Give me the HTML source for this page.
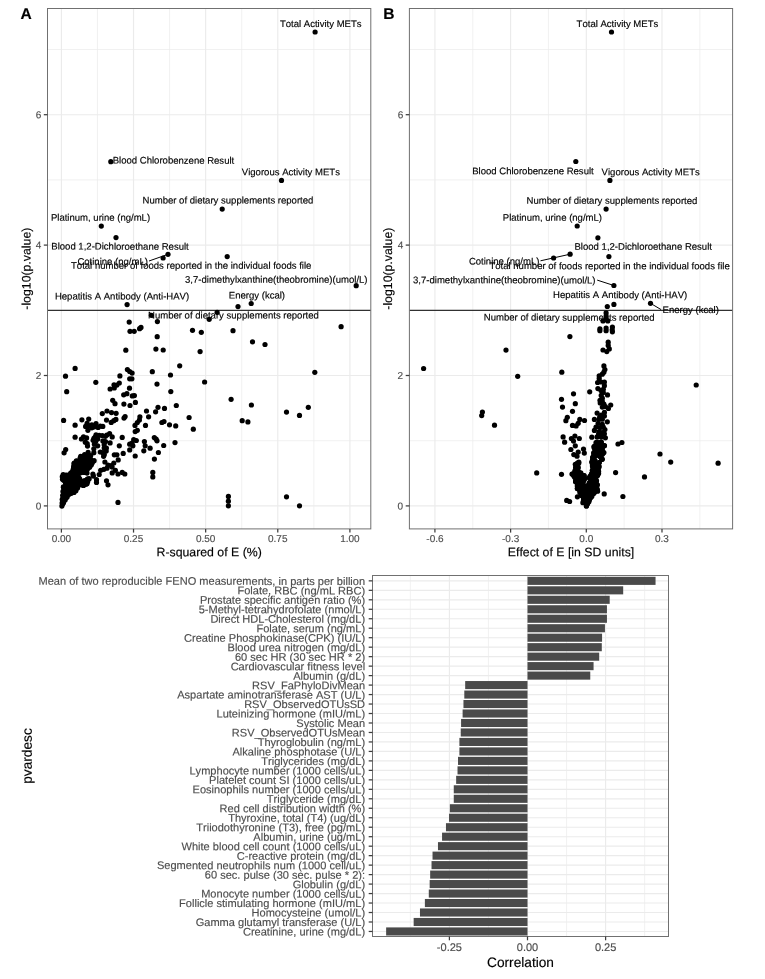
<!DOCTYPE html>
<html lang="en"><head><meta charset="utf-8"><title>Figure</title>
<style>
html,body{margin:0;padding:0;background:#fff;}
body{width:765px;height:979px;overflow:hidden;}
svg{display:block;font-family:"Liberation Sans",Arial,Helvetica,sans-serif;font-kerning:none;text-rendering:geometricPrecision;}
</style></head><body>
<svg width="765" height="979" viewBox="0 0 765 979">
<rect width="765" height="979" fill="#fff"/>
<rect x="47.5" y="8.5" width="323.3" height="520.4" fill="#fff"/>
<line x1="97.46" x2="97.46" y1="8.5" y2="528.9" stroke="#ebebeb" stroke-width="0.7"/>
<line x1="169.59" x2="169.59" y1="8.5" y2="528.9" stroke="#ebebeb" stroke-width="0.7"/>
<line x1="241.71" x2="241.71" y1="8.5" y2="528.9" stroke="#ebebeb" stroke-width="0.7"/>
<line x1="313.84" x2="313.84" y1="8.5" y2="528.9" stroke="#ebebeb" stroke-width="0.7"/>
<line y1="440.70" y2="440.70" x1="47.5" x2="370.8" stroke="#ebebeb" stroke-width="0.7"/>
<line y1="310.30" y2="310.30" x1="47.5" x2="370.8" stroke="#ebebeb" stroke-width="0.7"/>
<line y1="179.90" y2="179.90" x1="47.5" x2="370.8" stroke="#ebebeb" stroke-width="0.7"/>
<line y1="49.50" y2="49.50" x1="47.5" x2="370.8" stroke="#ebebeb" stroke-width="0.7"/>
<line x1="61.40" x2="61.40" y1="8.5" y2="528.9" stroke="#ebebeb" stroke-width="1.15"/>
<line x1="133.53" x2="133.53" y1="8.5" y2="528.9" stroke="#ebebeb" stroke-width="1.15"/>
<line x1="205.65" x2="205.65" y1="8.5" y2="528.9" stroke="#ebebeb" stroke-width="1.15"/>
<line x1="277.77" x2="277.77" y1="8.5" y2="528.9" stroke="#ebebeb" stroke-width="1.15"/>
<line x1="349.90" x2="349.90" y1="8.5" y2="528.9" stroke="#ebebeb" stroke-width="1.15"/>
<line y1="505.90" y2="505.90" x1="47.5" x2="370.8" stroke="#ebebeb" stroke-width="1.15"/>
<line y1="375.50" y2="375.50" x1="47.5" x2="370.8" stroke="#ebebeb" stroke-width="1.15"/>
<line y1="245.10" y2="245.10" x1="47.5" x2="370.8" stroke="#ebebeb" stroke-width="1.15"/>
<line y1="114.70" y2="114.70" x1="47.5" x2="370.8" stroke="#ebebeb" stroke-width="1.15"/>
<rect x="409.4" y="8.5" width="323.20000000000005" height="520.4" fill="#fff"/>
<line x1="472.76" x2="472.76" y1="8.5" y2="528.9" stroke="#ebebeb" stroke-width="0.7"/>
<line x1="548.45" x2="548.45" y1="8.5" y2="528.9" stroke="#ebebeb" stroke-width="0.7"/>
<line x1="624.14" x2="624.14" y1="8.5" y2="528.9" stroke="#ebebeb" stroke-width="0.7"/>
<line x1="699.83" x2="699.83" y1="8.5" y2="528.9" stroke="#ebebeb" stroke-width="0.7"/>
<line y1="440.70" y2="440.70" x1="409.4" x2="732.6" stroke="#ebebeb" stroke-width="0.7"/>
<line y1="310.30" y2="310.30" x1="409.4" x2="732.6" stroke="#ebebeb" stroke-width="0.7"/>
<line y1="179.90" y2="179.90" x1="409.4" x2="732.6" stroke="#ebebeb" stroke-width="0.7"/>
<line y1="49.50" y2="49.50" x1="409.4" x2="732.6" stroke="#ebebeb" stroke-width="0.7"/>
<line x1="434.92" x2="434.92" y1="8.5" y2="528.9" stroke="#ebebeb" stroke-width="1.15"/>
<line x1="510.61" x2="510.61" y1="8.5" y2="528.9" stroke="#ebebeb" stroke-width="1.15"/>
<line x1="586.30" x2="586.30" y1="8.5" y2="528.9" stroke="#ebebeb" stroke-width="1.15"/>
<line x1="661.99" x2="661.99" y1="8.5" y2="528.9" stroke="#ebebeb" stroke-width="1.15"/>
<line y1="505.90" y2="505.90" x1="409.4" x2="732.6" stroke="#ebebeb" stroke-width="1.15"/>
<line y1="375.50" y2="375.50" x1="409.4" x2="732.6" stroke="#ebebeb" stroke-width="1.15"/>
<line y1="245.10" y2="245.10" x1="409.4" x2="732.6" stroke="#ebebeb" stroke-width="1.15"/>
<line y1="114.70" y2="114.70" x1="409.4" x2="732.6" stroke="#ebebeb" stroke-width="1.15"/>
<g fill="#000">
<circle cx="315.1" cy="32.0" r="2.6"/>
<circle cx="110.8" cy="161.7" r="2.6"/>
<circle cx="281.5" cy="180.4" r="2.6"/>
<circle cx="222.2" cy="209.1" r="2.6"/>
<circle cx="101.3" cy="226.1" r="2.6"/>
<circle cx="116.0" cy="237.6" r="2.6"/>
<circle cx="163.1" cy="258.0" r="2.6"/>
<circle cx="168.0" cy="254.3" r="2.6"/>
<circle cx="227.2" cy="256.6" r="2.6"/>
<circle cx="75.1" cy="368.4" r="2.6"/>
<circle cx="65.5" cy="376.2" r="2.6"/>
<circle cx="66.7" cy="391.7" r="2.6"/>
<circle cx="95.8" cy="382.3" r="2.6"/>
<circle cx="127.4" cy="369.6" r="2.6"/>
<circle cx="129.7" cy="371.5" r="2.6"/>
<circle cx="119.9" cy="375.9" r="2.6"/>
<circle cx="119.3" cy="383.0" r="2.6"/>
<circle cx="116.9" cy="385.1" r="2.6"/>
<circle cx="114.0" cy="384.9" r="2.6"/>
<circle cx="110.1" cy="389.0" r="2.6"/>
<circle cx="114.3" cy="388.0" r="2.6"/>
<circle cx="126.9" cy="393.7" r="2.6"/>
<circle cx="123.7" cy="394.8" r="2.6"/>
<circle cx="129.5" cy="388.2" r="2.6"/>
<circle cx="129.7" cy="378.8" r="2.6"/>
<circle cx="112.7" cy="400.3" r="2.6"/>
<circle cx="115.0" cy="403.7" r="2.6"/>
<circle cx="123.9" cy="404.1" r="2.6"/>
<circle cx="130.0" cy="405.5" r="2.6"/>
<circle cx="107.0" cy="411.0" r="2.6"/>
<circle cx="102.3" cy="413.6" r="2.6"/>
<circle cx="111.5" cy="412.6" r="2.6"/>
<circle cx="116.1" cy="413.3" r="2.6"/>
<circle cx="125.1" cy="416.5" r="2.6"/>
<circle cx="124.0" cy="418.1" r="2.6"/>
<circle cx="115.9" cy="419.4" r="2.6"/>
<circle cx="113.8" cy="420.7" r="2.6"/>
<circle cx="111.2" cy="422.4" r="2.6"/>
<circle cx="106.5" cy="420.1" r="2.6"/>
<circle cx="63.6" cy="420.4" r="2.6"/>
<circle cx="81.9" cy="419.8" r="2.6"/>
<circle cx="88.7" cy="419.1" r="2.6"/>
<circle cx="75.1" cy="425.2" r="2.6"/>
<circle cx="87.1" cy="423.3" r="2.6"/>
<circle cx="85.6" cy="426.4" r="2.6"/>
<circle cx="89.7" cy="425.9" r="2.6"/>
<circle cx="87.9" cy="430.3" r="2.6"/>
<circle cx="96.0" cy="423.6" r="2.6"/>
<circle cx="93.9" cy="426.9" r="2.6"/>
<circle cx="98.1" cy="427.5" r="2.6"/>
<circle cx="102.8" cy="426.4" r="2.6"/>
<circle cx="91.8" cy="424.8" r="2.6"/>
<circle cx="75.1" cy="437.2" r="2.6"/>
<circle cx="83.5" cy="436.9" r="2.6"/>
<circle cx="86.6" cy="437.9" r="2.6"/>
<circle cx="96.0" cy="434.8" r="2.6"/>
<circle cx="99.2" cy="435.3" r="2.6"/>
<circle cx="102.3" cy="435.5" r="2.6"/>
<circle cx="105.4" cy="436.3" r="2.6"/>
<circle cx="109.6" cy="433.7" r="2.6"/>
<circle cx="112.2" cy="436.9" r="2.6"/>
<circle cx="122.2" cy="437.4" r="2.6"/>
<circle cx="93.9" cy="438.4" r="2.6"/>
<circle cx="81.4" cy="439.0" r="2.6"/>
<circle cx="118.0" cy="502.4" r="2.6"/>
<circle cx="65.7" cy="449.6" r="2.6"/>
<circle cx="64.1" cy="452.8" r="2.6"/>
<circle cx="119.3" cy="445.8" r="2.6"/>
<circle cx="123.2" cy="453.4" r="2.6"/>
<circle cx="129.7" cy="444.2" r="2.6"/>
<circle cx="129.7" cy="449.9" r="2.6"/>
<circle cx="114.3" cy="454.8" r="2.6"/>
<circle cx="116.9" cy="454.8" r="2.6"/>
<circle cx="118.2" cy="459.9" r="2.6"/>
<circle cx="113.8" cy="463.0" r="2.6"/>
<circle cx="111.2" cy="465.6" r="2.6"/>
<circle cx="108.0" cy="465.1" r="2.6"/>
<circle cx="104.9" cy="462.0" r="2.6"/>
<circle cx="107.0" cy="468.2" r="2.6"/>
<circle cx="103.9" cy="469.3" r="2.6"/>
<circle cx="100.7" cy="470.3" r="2.6"/>
<circle cx="99.2" cy="474.5" r="2.6"/>
<circle cx="112.2" cy="472.9" r="2.6"/>
<circle cx="115.4" cy="470.3" r="2.6"/>
<circle cx="118.0" cy="474.0" r="2.6"/>
<circle cx="122.2" cy="472.4" r="2.6"/>
<circle cx="124.8" cy="474.0" r="2.6"/>
<circle cx="106.5" cy="480.8" r="2.6"/>
<circle cx="108.0" cy="484.8" r="2.6"/>
<circle cx="96.5" cy="479.7" r="2.6"/>
<circle cx="96.5" cy="482.4" r="2.6"/>
<circle cx="92.9" cy="474.0" r="2.6"/>
<circle cx="93.4" cy="476.1" r="2.6"/>
<circle cx="89.2" cy="478.7" r="2.6"/>
<circle cx="87.1" cy="483.4" r="2.6"/>
<circle cx="83.5" cy="485.5" r="2.6"/>
<circle cx="84.5" cy="480.8" r="2.6"/>
<circle cx="132.1" cy="443.1" r="2.6"/>
<circle cx="136.3" cy="440.5" r="2.6"/>
<circle cx="132.9" cy="445.8" r="2.6"/>
<circle cx="135.2" cy="456.0" r="2.6"/>
<circle cx="144.4" cy="441.6" r="2.6"/>
<circle cx="145.2" cy="445.8" r="2.6"/>
<circle cx="143.8" cy="450.8" r="2.6"/>
<circle cx="150.1" cy="448.2" r="2.6"/>
<circle cx="157.0" cy="440.8" r="2.6"/>
<circle cx="163.7" cy="445.5" r="2.6"/>
<circle cx="158.4" cy="452.5" r="2.6"/>
<circle cx="154.4" cy="459.1" r="2.6"/>
<circle cx="175.0" cy="442.6" r="2.6"/>
<circle cx="152.8" cy="472.4" r="2.6"/>
<circle cx="152.8" cy="476.9" r="2.6"/>
<circle cx="132.1" cy="373.1" r="2.6"/>
<circle cx="131.9" cy="378.8" r="2.6"/>
<circle cx="132.3" cy="395.9" r="2.6"/>
<circle cx="134.4" cy="395.6" r="2.6"/>
<circle cx="135.4" cy="402.4" r="2.6"/>
<circle cx="152.3" cy="371.7" r="2.6"/>
<circle cx="157.0" cy="384.1" r="2.6"/>
<circle cx="170.5" cy="375.0" r="2.6"/>
<circle cx="179.7" cy="365.8" r="2.6"/>
<circle cx="170.8" cy="391.6" r="2.6"/>
<circle cx="204.6" cy="382.0" r="2.6"/>
<circle cx="176.3" cy="405.5" r="2.6"/>
<circle cx="158.0" cy="407.3" r="2.6"/>
<circle cx="164.5" cy="408.4" r="2.6"/>
<circle cx="146.5" cy="411.0" r="2.6"/>
<circle cx="155.6" cy="411.8" r="2.6"/>
<circle cx="139.9" cy="416.8" r="2.6"/>
<circle cx="148.6" cy="416.8" r="2.6"/>
<circle cx="139.4" cy="420.1" r="2.6"/>
<circle cx="137.3" cy="422.5" r="2.6"/>
<circle cx="135.0" cy="425.4" r="2.6"/>
<circle cx="145.5" cy="425.4" r="2.6"/>
<circle cx="161.9" cy="422.5" r="2.6"/>
<circle cx="164.0" cy="421.5" r="2.6"/>
<circle cx="169.5" cy="424.8" r="2.6"/>
<circle cx="175.7" cy="425.9" r="2.6"/>
<circle cx="189.1" cy="417.5" r="2.6"/>
<circle cx="193.3" cy="429.2" r="2.6"/>
<circle cx="135.2" cy="431.6" r="2.6"/>
<circle cx="137.3" cy="430.3" r="2.6"/>
<circle cx="154.3" cy="437.6" r="2.6"/>
<circle cx="156.1" cy="439.0" r="2.6"/>
<circle cx="133.7" cy="439.7" r="2.6"/>
<circle cx="314.8" cy="372.3" r="2.6"/>
<circle cx="231.1" cy="399.3" r="2.6"/>
<circle cx="251.4" cy="405.0" r="2.6"/>
<circle cx="242.2" cy="420.7" r="2.6"/>
<circle cx="247.9" cy="421.9" r="2.6"/>
<circle cx="286.5" cy="412.1" r="2.6"/>
<circle cx="299.5" cy="415.4" r="2.6"/>
<circle cx="308.3" cy="407.3" r="2.6"/>
<circle cx="228.4" cy="496.4" r="2.6"/>
<circle cx="228.4" cy="501.2" r="2.6"/>
<circle cx="228.4" cy="505.8" r="2.6"/>
<circle cx="286.5" cy="496.8" r="2.6"/>
<circle cx="299.5" cy="505.8" r="2.6"/>
<circle cx="127.1" cy="304.6" r="2.6"/>
<circle cx="129.2" cy="322.1" r="2.6"/>
<circle cx="130.0" cy="331.3" r="2.6"/>
<circle cx="125.8" cy="350.2" r="2.6"/>
<circle cx="151.4" cy="315.3" r="2.6"/>
<circle cx="157.4" cy="321.6" r="2.6"/>
<circle cx="134.2" cy="331.3" r="2.6"/>
<circle cx="139.6" cy="328.7" r="2.6"/>
<circle cx="141.0" cy="327.4" r="2.6"/>
<circle cx="157.2" cy="336.7" r="2.6"/>
<circle cx="192.5" cy="330.3" r="2.6"/>
<circle cx="201.3" cy="332.3" r="2.6"/>
<circle cx="155.9" cy="349.1" r="2.6"/>
<circle cx="163.2" cy="350.0" r="2.6"/>
<circle cx="200.1" cy="351.6" r="2.6"/>
<circle cx="356.2" cy="285.7" r="2.6"/>
<circle cx="251.2" cy="303.5" r="2.6"/>
<circle cx="238.0" cy="306.6" r="2.6"/>
<circle cx="217.1" cy="312.3" r="2.6"/>
<circle cx="209.2" cy="319.3" r="2.6"/>
<circle cx="233.0" cy="330.7" r="2.6"/>
<circle cx="252.5" cy="341.8" r="2.6"/>
<circle cx="265.0" cy="344.5" r="2.6"/>
<circle cx="341.1" cy="326.7" r="2.6"/>
<circle cx="91.8" cy="427.8" r="2.6"/>
<circle cx="100.3" cy="426.2" r="2.6"/>
<circle cx="85.3" cy="442.2" r="2.6"/>
<circle cx="87.5" cy="446.1" r="2.6"/>
<circle cx="87.2" cy="443.5" r="2.6"/>
<circle cx="95.1" cy="437.0" r="2.6"/>
<circle cx="93.1" cy="440.3" r="2.6"/>
<circle cx="95.7" cy="441.6" r="2.6"/>
<circle cx="97.7" cy="439.0" r="2.6"/>
<circle cx="94.4" cy="444.2" r="2.6"/>
<circle cx="97.7" cy="445.8" r="2.6"/>
<circle cx="93.8" cy="448.8" r="2.6"/>
<circle cx="93.8" cy="452.7" r="2.6"/>
<circle cx="106.8" cy="435.0" r="2.6"/>
<circle cx="102.9" cy="440.9" r="2.6"/>
<circle cx="105.5" cy="441.6" r="2.6"/>
<circle cx="110.1" cy="442.9" r="2.6"/>
<circle cx="104.2" cy="444.8" r="2.6"/>
<circle cx="104.2" cy="448.1" r="2.6"/>
<circle cx="100.3" cy="452.0" r="2.6"/>
<circle cx="102.9" cy="452.7" r="2.6"/>
<circle cx="106.2" cy="451.0" r="2.6"/>
<circle cx="103.6" cy="456.3" r="2.6"/>
<circle cx="112.1" cy="467.1" r="2.6"/>
<circle cx="94.1" cy="460.7" r="2.6"/>
<circle cx="104.3" cy="454.4" r="2.6"/>
<circle cx="106.4" cy="448.1" r="2.6"/>
<circle cx="92.3" cy="462.8" r="2.6"/>
<circle cx="88.1" cy="452.3" r="2.6"/>
<circle cx="90.7" cy="455.5" r="2.6"/>
<circle cx="85.7" cy="484.2" r="2.6"/>
<circle cx="61.9" cy="506.1" r="2.6"/>
<circle cx="62.1" cy="503.1" r="2.6"/>
<circle cx="62.3" cy="499.2" r="2.6"/>
<circle cx="62.7" cy="495.3" r="2.6"/>
<circle cx="63.0" cy="491.4" r="2.6"/>
<circle cx="63.4" cy="486.8" r="2.6"/>
<circle cx="65.5" cy="482.5" r="2.6"/>
<circle cx="62.5" cy="479.3" r="2.6"/>
<circle cx="62.3" cy="476.7" r="2.6"/>
<circle cx="63.2" cy="474.7" r="2.6"/>
<circle cx="65.5" cy="475.4" r="2.6"/>
<circle cx="70.7" cy="473.1" r="2.6"/>
<circle cx="73.0" cy="469.8" r="2.6"/>
<circle cx="73.6" cy="467.2" r="2.6"/>
<circle cx="74.0" cy="463.9" r="2.6"/>
<circle cx="74.2" cy="463.1" r="2.6"/>
<circle cx="76.4" cy="460.8" r="2.6"/>
<circle cx="80.7" cy="456.3" r="2.6"/>
<circle cx="84.6" cy="454.6" r="2.6"/>
<circle cx="87.9" cy="455.6" r="2.6"/>
<circle cx="90.5" cy="459.2" r="2.6"/>
<circle cx="92.5" cy="461.2" r="2.6"/>
<circle cx="91.1" cy="465.1" r="2.6"/>
<circle cx="89.6" cy="467.2" r="2.6"/>
<circle cx="87.7" cy="468.5" r="2.6"/>
<circle cx="86.7" cy="470.8" r="2.6"/>
<circle cx="87.0" cy="473.1" r="2.6"/>
<circle cx="87.7" cy="479.0" r="2.6"/>
<circle cx="87.7" cy="481.6" r="2.6"/>
<circle cx="86.4" cy="483.9" r="2.6"/>
<circle cx="83.1" cy="485.2" r="2.6"/>
<circle cx="81.1" cy="484.2" r="2.6"/>
<circle cx="77.5" cy="488.1" r="2.6"/>
<circle cx="75.9" cy="490.7" r="2.6"/>
<circle cx="74.0" cy="492.4" r="2.6"/>
<circle cx="71.3" cy="493.3" r="2.6"/>
<circle cx="69.1" cy="494.3" r="2.6"/>
<circle cx="67.1" cy="496.9" r="2.6"/>
<circle cx="65.1" cy="499.9" r="2.6"/>
<circle cx="63.5" cy="502.8" r="2.6"/>
<circle cx="81.4" cy="456.5" r="2.6"/>
<circle cx="83.5" cy="456.8" r="2.6"/>
<circle cx="86.1" cy="457.3" r="2.6"/>
<circle cx="88.6" cy="457.3" r="2.6"/>
<circle cx="80.1" cy="458.1" r="2.6"/>
<circle cx="82.2" cy="459.1" r="2.6"/>
<circle cx="85.5" cy="457.9" r="2.6"/>
<circle cx="87.3" cy="457.9" r="2.6"/>
<circle cx="89.8" cy="458.4" r="2.6"/>
<circle cx="76.5" cy="461.4" r="2.6"/>
<circle cx="79.7" cy="460.4" r="2.6"/>
<circle cx="81.3" cy="460.7" r="2.6"/>
<circle cx="83.9" cy="460.8" r="2.6"/>
<circle cx="86.1" cy="460.8" r="2.6"/>
<circle cx="89.0" cy="460.7" r="2.6"/>
<circle cx="90.5" cy="461.0" r="2.6"/>
<circle cx="75.9" cy="462.6" r="2.6"/>
<circle cx="78.2" cy="462.4" r="2.6"/>
<circle cx="80.6" cy="463.0" r="2.6"/>
<circle cx="81.8" cy="461.9" r="2.6"/>
<circle cx="85.1" cy="463.4" r="2.6"/>
<circle cx="86.8" cy="462.6" r="2.6"/>
<circle cx="89.6" cy="462.4" r="2.6"/>
<circle cx="91.5" cy="462.3" r="2.6"/>
<circle cx="75.0" cy="464.2" r="2.6"/>
<circle cx="76.3" cy="464.5" r="2.6"/>
<circle cx="79.4" cy="464.0" r="2.6"/>
<circle cx="81.1" cy="464.4" r="2.6"/>
<circle cx="84.2" cy="464.5" r="2.6"/>
<circle cx="86.6" cy="464.1" r="2.6"/>
<circle cx="88.1" cy="464.9" r="2.6"/>
<circle cx="91.2" cy="464.6" r="2.6"/>
<circle cx="73.9" cy="466.4" r="2.6"/>
<circle cx="75.1" cy="466.3" r="2.6"/>
<circle cx="78.4" cy="466.3" r="2.6"/>
<circle cx="80.0" cy="466.5" r="2.6"/>
<circle cx="82.4" cy="466.5" r="2.6"/>
<circle cx="85.5" cy="466.1" r="2.6"/>
<circle cx="86.4" cy="467.4" r="2.6"/>
<circle cx="74.7" cy="468.3" r="2.6"/>
<circle cx="77.3" cy="467.9" r="2.6"/>
<circle cx="79.8" cy="469.0" r="2.6"/>
<circle cx="82.1" cy="469.3" r="2.6"/>
<circle cx="84.4" cy="468.8" r="2.6"/>
<circle cx="85.2" cy="469.0" r="2.6"/>
<circle cx="87.8" cy="468.3" r="2.6"/>
<circle cx="73.4" cy="471.2" r="2.6"/>
<circle cx="75.1" cy="471.1" r="2.6"/>
<circle cx="78.6" cy="471.1" r="2.6"/>
<circle cx="80.8" cy="469.9" r="2.6"/>
<circle cx="82.8" cy="471.2" r="2.6"/>
<circle cx="84.1" cy="470.3" r="2.6"/>
<circle cx="71.9" cy="472.4" r="2.6"/>
<circle cx="74.3" cy="472.9" r="2.6"/>
<circle cx="77.0" cy="472.4" r="2.6"/>
<circle cx="78.6" cy="472.4" r="2.6"/>
<circle cx="80.8" cy="472.7" r="2.6"/>
<circle cx="84.1" cy="472.5" r="2.6"/>
<circle cx="85.3" cy="472.1" r="2.6"/>
<circle cx="66.5" cy="475.0" r="2.6"/>
<circle cx="68.6" cy="475.0" r="2.6"/>
<circle cx="71.0" cy="474.2" r="2.6"/>
<circle cx="73.4" cy="475.0" r="2.6"/>
<circle cx="75.0" cy="474.5" r="2.6"/>
<circle cx="77.8" cy="475.3" r="2.6"/>
<circle cx="63.4" cy="476.8" r="2.6"/>
<circle cx="64.7" cy="476.8" r="2.6"/>
<circle cx="66.8" cy="476.1" r="2.6"/>
<circle cx="70.4" cy="475.9" r="2.6"/>
<circle cx="71.6" cy="476.0" r="2.6"/>
<circle cx="75.1" cy="476.1" r="2.6"/>
<circle cx="76.1" cy="477.2" r="2.6"/>
<circle cx="78.5" cy="477.2" r="2.6"/>
<circle cx="63.5" cy="478.4" r="2.6"/>
<circle cx="66.6" cy="479.2" r="2.6"/>
<circle cx="68.4" cy="478.1" r="2.6"/>
<circle cx="70.7" cy="478.8" r="2.6"/>
<circle cx="73.8" cy="478.5" r="2.6"/>
<circle cx="75.5" cy="478.5" r="2.6"/>
<circle cx="77.7" cy="478.5" r="2.6"/>
<circle cx="79.6" cy="478.7" r="2.6"/>
<circle cx="87.5" cy="479.1" r="2.6"/>
<circle cx="63.6" cy="480.1" r="2.6"/>
<circle cx="64.7" cy="481.1" r="2.6"/>
<circle cx="68.3" cy="480.7" r="2.6"/>
<circle cx="69.8" cy="481.0" r="2.6"/>
<circle cx="71.7" cy="480.3" r="2.6"/>
<circle cx="74.0" cy="480.8" r="2.6"/>
<circle cx="76.5" cy="480.2" r="2.6"/>
<circle cx="79.4" cy="481.4" r="2.6"/>
<circle cx="81.1" cy="481.0" r="2.6"/>
<circle cx="83.6" cy="481.2" r="2.6"/>
<circle cx="86.1" cy="480.3" r="2.6"/>
<circle cx="65.9" cy="483.4" r="2.6"/>
<circle cx="68.7" cy="482.8" r="2.6"/>
<circle cx="71.0" cy="483.2" r="2.6"/>
<circle cx="73.9" cy="482.7" r="2.6"/>
<circle cx="75.6" cy="483.0" r="2.6"/>
<circle cx="78.5" cy="482.5" r="2.6"/>
<circle cx="80.6" cy="483.4" r="2.6"/>
<circle cx="82.5" cy="482.2" r="2.6"/>
<circle cx="84.4" cy="483.0" r="2.6"/>
<circle cx="65.9" cy="485.3" r="2.6"/>
<circle cx="67.2" cy="485.2" r="2.6"/>
<circle cx="69.6" cy="484.5" r="2.6"/>
<circle cx="72.6" cy="484.0" r="2.6"/>
<circle cx="73.9" cy="485.2" r="2.6"/>
<circle cx="76.5" cy="484.4" r="2.6"/>
<circle cx="79.2" cy="484.9" r="2.6"/>
<circle cx="80.6" cy="484.4" r="2.6"/>
<circle cx="83.6" cy="484.6" r="2.6"/>
<circle cx="63.5" cy="487.3" r="2.6"/>
<circle cx="67.1" cy="486.0" r="2.6"/>
<circle cx="69.5" cy="486.5" r="2.6"/>
<circle cx="71.5" cy="487.1" r="2.6"/>
<circle cx="73.0" cy="486.9" r="2.6"/>
<circle cx="75.9" cy="487.1" r="2.6"/>
<circle cx="77.6" cy="487.1" r="2.6"/>
<circle cx="65.6" cy="488.1" r="2.6"/>
<circle cx="68.3" cy="488.1" r="2.6"/>
<circle cx="69.6" cy="489.0" r="2.6"/>
<circle cx="72.4" cy="488.7" r="2.6"/>
<circle cx="74.7" cy="488.6" r="2.6"/>
<circle cx="76.5" cy="488.1" r="2.6"/>
<circle cx="63.9" cy="490.5" r="2.6"/>
<circle cx="66.5" cy="491.1" r="2.6"/>
<circle cx="68.5" cy="491.2" r="2.6"/>
<circle cx="70.4" cy="490.3" r="2.6"/>
<circle cx="72.7" cy="490.0" r="2.6"/>
<circle cx="63.5" cy="491.9" r="2.6"/>
<circle cx="65.8" cy="493.3" r="2.6"/>
<circle cx="68.3" cy="492.5" r="2.6"/>
<circle cx="70.0" cy="492.8" r="2.6"/>
<circle cx="64.3" cy="495.4" r="2.6"/>
<circle cx="67.1" cy="494.1" r="2.6"/>
<circle cx="63.4" cy="496.6" r="2.6"/>
<circle cx="64.7" cy="495.9" r="2.6"/>
<circle cx="66.9" cy="496.2" r="2.6"/>
<circle cx="64.1" cy="498.2" r="2.6"/>
<circle cx="66.0" cy="498.1" r="2.6"/>
<circle cx="62.4" cy="499.9" r="2.6"/>
<circle cx="62.6" cy="502.6" r="2.6"/>
<circle cx="62.6" cy="504.1" r="2.6"/>
<circle cx="611.5" cy="32.0" r="2.6"/>
<circle cx="575.8" cy="161.5" r="2.6"/>
<circle cx="609.9" cy="180.4" r="2.6"/>
<circle cx="606.1" cy="209.1" r="2.6"/>
<circle cx="577.2" cy="226.0" r="2.6"/>
<circle cx="597.9" cy="237.8" r="2.6"/>
<circle cx="553.6" cy="258.0" r="2.6"/>
<circle cx="570.1" cy="254.2" r="2.6"/>
<circle cx="608.9" cy="256.6" r="2.6"/>
<circle cx="613.9" cy="285.5" r="2.6"/>
<circle cx="607.3" cy="306.5" r="2.6"/>
<circle cx="613.9" cy="304.4" r="2.6"/>
<circle cx="650.5" cy="303.3" r="2.6"/>
<circle cx="606.1" cy="312.9" r="2.6"/>
<circle cx="606.1" cy="316.1" r="2.6"/>
<circle cx="603.0" cy="320.9" r="2.6"/>
<circle cx="607.8" cy="320.9" r="2.6"/>
<circle cx="599.9" cy="330.7" r="2.6"/>
<circle cx="606.1" cy="328.0" r="2.6"/>
<circle cx="612.4" cy="327.0" r="2.6"/>
<circle cx="606.1" cy="330.7" r="2.6"/>
<circle cx="612.4" cy="331.8" r="2.6"/>
<circle cx="608.2" cy="342.2" r="2.6"/>
<circle cx="608.2" cy="345.4" r="2.6"/>
<circle cx="603.0" cy="350.0" r="2.6"/>
<circle cx="609.3" cy="348.9" r="2.6"/>
<circle cx="606.8" cy="351.6" r="2.6"/>
<circle cx="605.9" cy="319.3" r="2.6"/>
<circle cx="599.9" cy="328.8" r="2.6"/>
<circle cx="612.2" cy="329.8" r="2.6"/>
<circle cx="569.9" cy="336.6" r="2.6"/>
<circle cx="603.9" cy="365.9" r="2.6"/>
<circle cx="604.9" cy="369.5" r="2.6"/>
<circle cx="603.9" cy="372.2" r="2.6"/>
<circle cx="602.3" cy="374.2" r="2.6"/>
<circle cx="599.2" cy="375.8" r="2.6"/>
<circle cx="599.2" cy="378.4" r="2.6"/>
<circle cx="561.8" cy="372.2" r="2.6"/>
<circle cx="597.6" cy="382.5" r="2.6"/>
<circle cx="604.4" cy="382.0" r="2.6"/>
<circle cx="604.4" cy="385.7" r="2.6"/>
<circle cx="597.9" cy="388.6" r="2.6"/>
<circle cx="603.3" cy="389.3" r="2.6"/>
<circle cx="603.3" cy="392.5" r="2.6"/>
<circle cx="601.2" cy="395.4" r="2.6"/>
<circle cx="607.5" cy="394.9" r="2.6"/>
<circle cx="589.7" cy="391.8" r="2.6"/>
<circle cx="573.5" cy="393.8" r="2.6"/>
<circle cx="561.5" cy="399.3" r="2.6"/>
<circle cx="575.3" cy="403.7" r="2.6"/>
<circle cx="562.5" cy="407.1" r="2.6"/>
<circle cx="572.5" cy="411.3" r="2.6"/>
<circle cx="600.0" cy="400.3" r="2.6"/>
<circle cx="600.2" cy="402.9" r="2.6"/>
<circle cx="603.9" cy="404.0" r="2.6"/>
<circle cx="610.7" cy="405.0" r="2.6"/>
<circle cx="602.3" cy="407.1" r="2.6"/>
<circle cx="608.4" cy="408.5" r="2.6"/>
<circle cx="604.4" cy="412.4" r="2.6"/>
<circle cx="597.1" cy="413.1" r="2.6"/>
<circle cx="601.2" cy="415.0" r="2.6"/>
<circle cx="567.3" cy="417.3" r="2.6"/>
<circle cx="565.9" cy="420.7" r="2.6"/>
<circle cx="579.8" cy="419.4" r="2.6"/>
<circle cx="584.5" cy="420.5" r="2.6"/>
<circle cx="578.2" cy="423.3" r="2.6"/>
<circle cx="572.5" cy="425.4" r="2.6"/>
<circle cx="576.1" cy="425.9" r="2.6"/>
<circle cx="594.4" cy="419.4" r="2.6"/>
<circle cx="599.2" cy="419.2" r="2.6"/>
<circle cx="602.3" cy="419.2" r="2.6"/>
<circle cx="607.3" cy="421.8" r="2.6"/>
<circle cx="598.1" cy="423.3" r="2.6"/>
<circle cx="602.3" cy="424.4" r="2.6"/>
<circle cx="596.0" cy="427.0" r="2.6"/>
<circle cx="600.2" cy="427.5" r="2.6"/>
<circle cx="604.9" cy="429.6" r="2.6"/>
<circle cx="594.4" cy="430.4" r="2.6"/>
<circle cx="599.2" cy="431.7" r="2.6"/>
<circle cx="602.3" cy="432.7" r="2.6"/>
<circle cx="591.8" cy="437.2" r="2.6"/>
<circle cx="597.1" cy="436.9" r="2.6"/>
<circle cx="601.2" cy="436.9" r="2.6"/>
<circle cx="605.4" cy="437.8" r="2.6"/>
<circle cx="563.1" cy="436.9" r="2.6"/>
<circle cx="564.6" cy="442.2" r="2.6"/>
<circle cx="571.4" cy="438.5" r="2.6"/>
<circle cx="574.9" cy="436.1" r="2.6"/>
<circle cx="573.5" cy="441.1" r="2.6"/>
<circle cx="579.3" cy="438.5" r="2.6"/>
<circle cx="575.3" cy="445.8" r="2.6"/>
<circle cx="570.9" cy="449.5" r="2.6"/>
<circle cx="583.5" cy="449.0" r="2.6"/>
<circle cx="618.0" cy="444.0" r="2.6"/>
<circle cx="621.9" cy="442.5" r="2.6"/>
<circle cx="597.1" cy="442.2" r="2.6"/>
<circle cx="601.2" cy="442.2" r="2.6"/>
<circle cx="594.4" cy="446.3" r="2.6"/>
<circle cx="599.2" cy="446.3" r="2.6"/>
<circle cx="604.4" cy="445.5" r="2.6"/>
<circle cx="599.2" cy="449.5" r="2.6"/>
<circle cx="602.3" cy="449.0" r="2.6"/>
<circle cx="561.5" cy="474.3" r="2.6"/>
<circle cx="615.6" cy="472.6" r="2.6"/>
<circle cx="622.9" cy="496.5" r="2.6"/>
<circle cx="604.2" cy="493.9" r="2.6"/>
<circle cx="566.7" cy="500.4" r="2.6"/>
<circle cx="569.6" cy="501.5" r="2.6"/>
<circle cx="577.4" cy="496.8" r="2.6"/>
<circle cx="584.3" cy="453.1" r="2.6"/>
<circle cx="578.2" cy="452.0" r="2.6"/>
<circle cx="573.8" cy="454.6" r="2.6"/>
<circle cx="577.0" cy="456.2" r="2.6"/>
<circle cx="578.8" cy="462.0" r="2.6"/>
<circle cx="575.3" cy="464.3" r="2.6"/>
<circle cx="577.4" cy="467.2" r="2.6"/>
<circle cx="575.1" cy="470.3" r="2.6"/>
<circle cx="572.0" cy="474.0" r="2.6"/>
<circle cx="575.1" cy="473.5" r="2.6"/>
<circle cx="578.2" cy="471.9" r="2.6"/>
<circle cx="580.8" cy="473.5" r="2.6"/>
<circle cx="575.6" cy="481.3" r="2.6"/>
<circle cx="578.2" cy="477.6" r="2.6"/>
<circle cx="581.4" cy="476.6" r="2.6"/>
<circle cx="584.0" cy="475.6" r="2.6"/>
<circle cx="578.8" cy="482.4" r="2.6"/>
<circle cx="581.4" cy="480.8" r="2.6"/>
<circle cx="584.5" cy="479.2" r="2.6"/>
<circle cx="577.4" cy="488.6" r="2.6"/>
<circle cx="580.3" cy="486.0" r="2.6"/>
<circle cx="582.9" cy="485.0" r="2.6"/>
<circle cx="581.4" cy="490.2" r="2.6"/>
<circle cx="584.0" cy="489.2" r="2.6"/>
<circle cx="582.4" cy="494.4" r="2.6"/>
<circle cx="585.0" cy="493.3" r="2.6"/>
<circle cx="583.5" cy="498.6" r="2.6"/>
<circle cx="586.1" cy="497.5" r="2.6"/>
<circle cx="582.9" cy="502.7" r="2.6"/>
<circle cx="585.6" cy="502.2" r="2.6"/>
<circle cx="586.4" cy="505.9" r="2.6"/>
<circle cx="593.9" cy="453.1" r="2.6"/>
<circle cx="597.1" cy="451.5" r="2.6"/>
<circle cx="601.2" cy="452.5" r="2.6"/>
<circle cx="603.9" cy="452.5" r="2.6"/>
<circle cx="592.9" cy="457.3" r="2.6"/>
<circle cx="596.0" cy="455.7" r="2.6"/>
<circle cx="600.2" cy="456.7" r="2.6"/>
<circle cx="602.3" cy="459.3" r="2.6"/>
<circle cx="591.8" cy="462.0" r="2.6"/>
<circle cx="595.0" cy="460.9" r="2.6"/>
<circle cx="599.2" cy="462.5" r="2.6"/>
<circle cx="592.9" cy="466.1" r="2.6"/>
<circle cx="596.0" cy="465.6" r="2.6"/>
<circle cx="599.2" cy="466.7" r="2.6"/>
<circle cx="592.4" cy="470.3" r="2.6"/>
<circle cx="596.0" cy="470.3" r="2.6"/>
<circle cx="598.6" cy="471.4" r="2.6"/>
<circle cx="591.3" cy="474.5" r="2.6"/>
<circle cx="595.0" cy="475.0" r="2.6"/>
<circle cx="598.6" cy="473.5" r="2.6"/>
<circle cx="590.3" cy="478.7" r="2.6"/>
<circle cx="593.4" cy="479.2" r="2.6"/>
<circle cx="596.0" cy="480.3" r="2.6"/>
<circle cx="589.2" cy="482.9" r="2.6"/>
<circle cx="592.4" cy="483.4" r="2.6"/>
<circle cx="597.3" cy="484.8" r="2.6"/>
<circle cx="588.7" cy="487.1" r="2.6"/>
<circle cx="591.8" cy="487.6" r="2.6"/>
<circle cx="594.4" cy="488.1" r="2.6"/>
<circle cx="597.6" cy="491.2" r="2.6"/>
<circle cx="588.7" cy="491.2" r="2.6"/>
<circle cx="591.8" cy="491.8" r="2.6"/>
<circle cx="595.0" cy="491.5" r="2.6"/>
<circle cx="588.2" cy="495.4" r="2.6"/>
<circle cx="590.8" cy="495.9" r="2.6"/>
<circle cx="589.2" cy="499.6" r="2.6"/>
<circle cx="587.6" cy="502.7" r="2.6"/>
<circle cx="590.3" cy="498.0" r="2.6"/>
<circle cx="601.2" cy="382.0" r="2.6"/>
<circle cx="601.0" cy="390.4" r="2.6"/>
<circle cx="602.3" cy="398.2" r="2.6"/>
<circle cx="602.3" cy="401.4" r="2.6"/>
<circle cx="605.4" cy="406.6" r="2.6"/>
<circle cx="599.7" cy="417.1" r="2.6"/>
<circle cx="604.4" cy="416.0" r="2.6"/>
<circle cx="603.3" cy="427.0" r="2.6"/>
<circle cx="598.6" cy="433.8" r="2.6"/>
<circle cx="604.4" cy="433.8" r="2.6"/>
<circle cx="423.6" cy="368.5" r="2.6"/>
<circle cx="506.0" cy="350.1" r="2.6"/>
<circle cx="517.7" cy="376.3" r="2.6"/>
<circle cx="482.4" cy="412.0" r="2.6"/>
<circle cx="481.7" cy="415.6" r="2.6"/>
<circle cx="494.5" cy="425.2" r="2.6"/>
<circle cx="536.7" cy="472.9" r="2.6"/>
<circle cx="696.2" cy="385.0" r="2.6"/>
<circle cx="660.0" cy="454.0" r="2.6"/>
<circle cx="670.7" cy="462.1" r="2.6"/>
<circle cx="718.1" cy="463.2" r="2.6"/>
<circle cx="644.5" cy="476.9" r="2.6"/>
<circle cx="577.4" cy="463.0" r="2.6"/>
<circle cx="575.6" cy="467.2" r="2.6"/>
<circle cx="575.1" cy="471.4" r="2.6"/>
<circle cx="572.5" cy="474.0" r="2.6"/>
<circle cx="575.6" cy="481.8" r="2.6"/>
<circle cx="577.4" cy="488.6" r="2.6"/>
<circle cx="581.4" cy="495.4" r="2.6"/>
<circle cx="583.7" cy="501.7" r="2.6"/>
<circle cx="586.4" cy="505.9" r="2.6"/>
<circle cx="588.9" cy="501.7" r="2.6"/>
<circle cx="591.8" cy="496.5" r="2.6"/>
<circle cx="595.0" cy="491.8" r="2.6"/>
<circle cx="597.3" cy="489.2" r="2.6"/>
<circle cx="597.1" cy="485.0" r="2.6"/>
<circle cx="596.5" cy="480.8" r="2.6"/>
<circle cx="597.6" cy="475.6" r="2.6"/>
<circle cx="598.4" cy="471.4" r="2.6"/>
<circle cx="598.6" cy="466.1" r="2.6"/>
<circle cx="599.2" cy="462.5" r="2.6"/>
<circle cx="601.8" cy="459.3" r="2.6"/>
<circle cx="603.3" cy="452.5" r="2.6"/>
<circle cx="604.4" cy="445.8" r="2.6"/>
<circle cx="601.2" cy="442.1" r="2.6"/>
<circle cx="596.0" cy="442.6" r="2.6"/>
<circle cx="593.9" cy="446.8" r="2.6"/>
<circle cx="593.9" cy="453.1" r="2.6"/>
<circle cx="592.7" cy="457.3" r="2.6"/>
<circle cx="592.0" cy="462.0" r="2.6"/>
<circle cx="592.4" cy="470.3" r="2.6"/>
<circle cx="590.8" cy="475.6" r="2.6"/>
<circle cx="584.0" cy="475.6" r="2.6"/>
<circle cx="580.8" cy="472.9" r="2.6"/>
<circle cx="578.2" cy="471.4" r="2.6"/>
<circle cx="578.2" cy="467.2" r="2.6"/>
<circle cx="578.8" cy="463.0" r="2.6"/>
<circle cx="596.8" cy="444.7" r="2.6"/>
<circle cx="599.2" cy="444.8" r="2.6"/>
<circle cx="601.8" cy="444.9" r="2.6"/>
<circle cx="595.7" cy="445.4" r="2.6"/>
<circle cx="598.1" cy="445.8" r="2.6"/>
<circle cx="600.7" cy="446.9" r="2.6"/>
<circle cx="602.4" cy="446.9" r="2.6"/>
<circle cx="594.4" cy="448.3" r="2.6"/>
<circle cx="597.3" cy="448.1" r="2.6"/>
<circle cx="598.8" cy="448.4" r="2.6"/>
<circle cx="600.8" cy="447.8" r="2.6"/>
<circle cx="595.6" cy="449.8" r="2.6"/>
<circle cx="597.6" cy="449.8" r="2.6"/>
<circle cx="599.9" cy="450.2" r="2.6"/>
<circle cx="602.1" cy="449.9" r="2.6"/>
<circle cx="594.1" cy="452.3" r="2.6"/>
<circle cx="597.2" cy="452.0" r="2.6"/>
<circle cx="598.5" cy="451.5" r="2.6"/>
<circle cx="601.3" cy="451.6" r="2.6"/>
<circle cx="593.8" cy="454.9" r="2.6"/>
<circle cx="595.4" cy="454.8" r="2.6"/>
<circle cx="598.5" cy="453.7" r="2.6"/>
<circle cx="600.5" cy="454.6" r="2.6"/>
<circle cx="602.6" cy="454.1" r="2.6"/>
<circle cx="594.6" cy="456.1" r="2.6"/>
<circle cx="593.6" cy="457.3" r="2.6"/>
<circle cx="601.7" cy="458.1" r="2.6"/>
<circle cx="592.5" cy="459.9" r="2.6"/>
<circle cx="594.8" cy="460.3" r="2.6"/>
<circle cx="593.6" cy="462.2" r="2.6"/>
<circle cx="594.8" cy="462.2" r="2.6"/>
<circle cx="577.6" cy="464.7" r="2.6"/>
<circle cx="592.4" cy="464.8" r="2.6"/>
<circle cx="593.6" cy="463.8" r="2.6"/>
<circle cx="596.7" cy="464.6" r="2.6"/>
<circle cx="598.5" cy="463.6" r="2.6"/>
<circle cx="576.4" cy="466.1" r="2.6"/>
<circle cx="592.5" cy="466.5" r="2.6"/>
<circle cx="596.2" cy="466.1" r="2.6"/>
<circle cx="597.7" cy="466.5" r="2.6"/>
<circle cx="576.2" cy="468.8" r="2.6"/>
<circle cx="577.9" cy="468.4" r="2.6"/>
<circle cx="593.8" cy="468.9" r="2.6"/>
<circle cx="596.6" cy="468.3" r="2.6"/>
<circle cx="577.0" cy="469.7" r="2.6"/>
<circle cx="592.8" cy="470.7" r="2.6"/>
<circle cx="595.2" cy="470.0" r="2.6"/>
<circle cx="598.2" cy="469.4" r="2.6"/>
<circle cx="575.1" cy="471.8" r="2.6"/>
<circle cx="578.1" cy="472.1" r="2.6"/>
<circle cx="592.7" cy="471.5" r="2.6"/>
<circle cx="595.0" cy="471.9" r="2.6"/>
<circle cx="597.1" cy="472.5" r="2.6"/>
<circle cx="573.2" cy="474.4" r="2.6"/>
<circle cx="574.8" cy="473.5" r="2.6"/>
<circle cx="577.1" cy="473.9" r="2.6"/>
<circle cx="579.7" cy="474.4" r="2.6"/>
<circle cx="591.6" cy="473.5" r="2.6"/>
<circle cx="592.9" cy="474.5" r="2.6"/>
<circle cx="595.6" cy="474.2" r="2.6"/>
<circle cx="574.0" cy="476.2" r="2.6"/>
<circle cx="576.3" cy="475.9" r="2.6"/>
<circle cx="577.9" cy="475.9" r="2.6"/>
<circle cx="581.1" cy="475.4" r="2.6"/>
<circle cx="582.8" cy="475.7" r="2.6"/>
<circle cx="589.8" cy="476.5" r="2.6"/>
<circle cx="591.8" cy="476.7" r="2.6"/>
<circle cx="593.7" cy="475.7" r="2.6"/>
<circle cx="596.0" cy="475.5" r="2.6"/>
<circle cx="574.9" cy="477.5" r="2.6"/>
<circle cx="576.9" cy="477.6" r="2.6"/>
<circle cx="579.4" cy="478.2" r="2.6"/>
<circle cx="581.2" cy="477.7" r="2.6"/>
<circle cx="584.4" cy="477.4" r="2.6"/>
<circle cx="589.3" cy="477.9" r="2.6"/>
<circle cx="591.0" cy="478.2" r="2.6"/>
<circle cx="593.4" cy="478.9" r="2.6"/>
<circle cx="595.8" cy="477.8" r="2.6"/>
<circle cx="576.0" cy="480.0" r="2.6"/>
<circle cx="577.7" cy="480.2" r="2.6"/>
<circle cx="579.8" cy="480.1" r="2.6"/>
<circle cx="583.1" cy="480.0" r="2.6"/>
<circle cx="591.3" cy="479.9" r="2.6"/>
<circle cx="593.9" cy="479.4" r="2.6"/>
<circle cx="577.6" cy="482.8" r="2.6"/>
<circle cx="580.0" cy="482.0" r="2.6"/>
<circle cx="582.1" cy="482.1" r="2.6"/>
<circle cx="583.4" cy="481.4" r="2.6"/>
<circle cx="591.2" cy="482.2" r="2.6"/>
<circle cx="593.1" cy="482.4" r="2.6"/>
<circle cx="595.2" cy="482.1" r="2.6"/>
<circle cx="577.4" cy="483.6" r="2.6"/>
<circle cx="581.0" cy="483.5" r="2.6"/>
<circle cx="582.8" cy="483.6" r="2.6"/>
<circle cx="591.5" cy="484.1" r="2.6"/>
<circle cx="593.6" cy="483.3" r="2.6"/>
<circle cx="596.6" cy="484.0" r="2.6"/>
<circle cx="577.3" cy="485.9" r="2.6"/>
<circle cx="578.8" cy="485.4" r="2.6"/>
<circle cx="582.0" cy="485.8" r="2.6"/>
<circle cx="584.4" cy="486.1" r="2.6"/>
<circle cx="587.0" cy="485.8" r="2.6"/>
<circle cx="588.2" cy="485.7" r="2.6"/>
<circle cx="591.4" cy="486.3" r="2.6"/>
<circle cx="592.9" cy="485.5" r="2.6"/>
<circle cx="595.8" cy="486.9" r="2.6"/>
<circle cx="579.0" cy="488.1" r="2.6"/>
<circle cx="581.0" cy="488.8" r="2.6"/>
<circle cx="583.5" cy="487.4" r="2.6"/>
<circle cx="584.8" cy="488.3" r="2.6"/>
<circle cx="588.1" cy="487.5" r="2.6"/>
<circle cx="589.4" cy="488.7" r="2.6"/>
<circle cx="591.4" cy="487.9" r="2.6"/>
<circle cx="594.1" cy="488.4" r="2.6"/>
<circle cx="579.7" cy="490.3" r="2.6"/>
<circle cx="582.0" cy="489.9" r="2.6"/>
<circle cx="584.0" cy="489.6" r="2.6"/>
<circle cx="586.6" cy="489.4" r="2.6"/>
<circle cx="588.5" cy="490.5" r="2.6"/>
<circle cx="591.2" cy="489.5" r="2.6"/>
<circle cx="592.8" cy="490.7" r="2.6"/>
<circle cx="595.7" cy="490.7" r="2.6"/>
<circle cx="579.9" cy="492.4" r="2.6"/>
<circle cx="582.4" cy="491.4" r="2.6"/>
<circle cx="584.6" cy="492.3" r="2.6"/>
<circle cx="587.6" cy="491.3" r="2.6"/>
<circle cx="589.3" cy="492.9" r="2.6"/>
<circle cx="591.6" cy="492.2" r="2.6"/>
<circle cx="594.2" cy="492.6" r="2.6"/>
<circle cx="581.9" cy="494.3" r="2.6"/>
<circle cx="584.4" cy="494.7" r="2.6"/>
<circle cx="586.0" cy="494.3" r="2.6"/>
<circle cx="588.5" cy="493.5" r="2.6"/>
<circle cx="591.4" cy="494.3" r="2.6"/>
<circle cx="593.7" cy="493.6" r="2.6"/>
<circle cx="582.7" cy="495.5" r="2.6"/>
<circle cx="584.7" cy="495.6" r="2.6"/>
<circle cx="588.1" cy="496.5" r="2.6"/>
<circle cx="590.3" cy="496.9" r="2.6"/>
<circle cx="583.6" cy="498.0" r="2.6"/>
<circle cx="586.0" cy="498.5" r="2.6"/>
<circle cx="589.0" cy="497.8" r="2.6"/>
<circle cx="590.2" cy="497.8" r="2.6"/>
<circle cx="583.5" cy="500.6" r="2.6"/>
<circle cx="584.8" cy="499.7" r="2.6"/>
<circle cx="587.9" cy="499.3" r="2.6"/>
<circle cx="589.1" cy="500.2" r="2.6"/>
<circle cx="586.5" cy="502.4" r="2.6"/>
<circle cx="587.5" cy="504.0" r="2.6"/>
</g>
<line x1="47.5" x2="370.8" y1="310.3" y2="310.3" stroke="#000" stroke-width="1"/>
<line x1="409.4" x2="732.6" y1="310.3" y2="310.3" stroke="#000" stroke-width="1"/>
<line x1="149" y1="261" x2="168" y2="254.3" stroke="#000" stroke-width="1"/>
<line x1="540.5" y1="260.8" x2="570.1" y2="254.2" stroke="#000" stroke-width="1"/>
<line x1="597.2" y1="280.1" x2="613.9" y2="285.5" stroke="#000" stroke-width="1"/>
<line x1="650.5" y1="303.3" x2="661.1" y2="309.6" stroke="#000" stroke-width="1"/>
<text x="279.90" y="27.00" font-size="9.55" text-anchor="start" fill="#000" font-weight="normal" stroke="#000" stroke-width="0.15" transform="rotate(0.03 279.90 27.00)">Total Activity METs</text>
<text x="112.70" y="163.60" font-size="9.55" text-anchor="start" fill="#000" font-weight="normal" stroke="#000" stroke-width="0.15" transform="rotate(0.03 112.70 163.60)">Blood Chlorobenzene Result</text>
<text x="241.80" y="175.30" font-size="9.55" text-anchor="start" fill="#000" font-weight="normal" stroke="#000" stroke-width="0.15" transform="rotate(0.03 241.80 175.30)">Vigorous Activity METs</text>
<text x="142.50" y="203.50" font-size="9.55" text-anchor="start" fill="#000" font-weight="normal" stroke="#000" stroke-width="0.15" transform="rotate(0.03 142.50 203.50)">Number of dietary supplements reported</text>
<text x="50.90" y="220.70" font-size="9.55" text-anchor="start" fill="#000" font-weight="normal" stroke="#000" stroke-width="0.15" transform="rotate(0.03 50.90 220.70)">Platinum, urine (ng/mL)</text>
<text x="51.30" y="249.60" font-size="9.55" text-anchor="start" fill="#000" font-weight="normal" stroke="#000" stroke-width="0.15" transform="rotate(0.03 51.30 249.60)">Blood 1,2-Dichloroethane Result</text>
<text x="77.40" y="264.80" font-size="9.55" text-anchor="start" fill="#000" font-weight="normal" stroke="#000" stroke-width="0.15" transform="rotate(0.03 77.40 264.80)">Cotinine (ng/mL)</text>
<text x="71.00" y="268.70" font-size="9.55" text-anchor="start" fill="#000" font-weight="normal" stroke="#000" stroke-width="0.15" transform="rotate(0.03 71.00 268.70)">Total number of foods reported in the individual foods file</text>
<text x="185.00" y="282.70" font-size="9.55" text-anchor="start" fill="#000" font-weight="normal" stroke="#000" stroke-width="0.15" transform="rotate(0.03 185.00 282.70)">3,7-dimethylxanthine(theobromine)(umol/L)</text>
<text x="54.90" y="299.40" font-size="9.55" text-anchor="start" fill="#000" font-weight="normal" stroke="#000" stroke-width="0.15" transform="rotate(0.03 54.90 299.40)">Hepatitis A Antibody (Anti-HAV)</text>
<text x="228.80" y="298.50" font-size="9.55" text-anchor="start" fill="#000" font-weight="normal" stroke="#000" stroke-width="0.15" transform="rotate(0.03 228.80 298.50)">Energy (kcal)</text>
<text x="148.00" y="318.50" font-size="9.55" text-anchor="start" fill="#000" font-weight="normal" stroke="#000" stroke-width="0.15" transform="rotate(0.03 148.00 318.50)">Number of dietary supplements reported</text>
<text x="576.60" y="27.00" font-size="9.55" text-anchor="start" fill="#000" font-weight="normal" stroke="#000" stroke-width="0.15" transform="rotate(0.03 576.60 27.00)">Total Activity METs</text>
<text x="472.20" y="174.20" font-size="9.55" text-anchor="start" fill="#000" font-weight="normal" stroke="#000" stroke-width="0.15" transform="rotate(0.03 472.20 174.20)">Blood Chlorobenzene Result</text>
<text x="601.60" y="175.20" font-size="9.55" text-anchor="start" fill="#000" font-weight="normal" stroke="#000" stroke-width="0.15" transform="rotate(0.03 601.60 175.20)">Vigorous Activity METs</text>
<text x="526.50" y="203.80" font-size="9.55" text-anchor="start" fill="#000" font-weight="normal" stroke="#000" stroke-width="0.15" transform="rotate(0.03 526.50 203.80)">Number of dietary supplements reported</text>
<text x="502.80" y="220.80" font-size="9.55" text-anchor="start" fill="#000" font-weight="normal" stroke="#000" stroke-width="0.15" transform="rotate(0.03 502.80 220.80)">Platinum, urine (ng/mL)</text>
<text x="574.50" y="249.80" font-size="9.55" text-anchor="start" fill="#000" font-weight="normal" stroke="#000" stroke-width="0.15" transform="rotate(0.03 574.50 249.80)">Blood 1,2-Dichloroethane Result</text>
<text x="468.90" y="264.40" font-size="9.55" text-anchor="start" fill="#000" font-weight="normal" stroke="#000" stroke-width="0.15" transform="rotate(0.03 468.90 264.40)">Cotinine (ng/mL)</text>
<text x="489.40" y="269.10" font-size="9.55" text-anchor="start" fill="#000" font-weight="normal" stroke="#000" stroke-width="0.15" transform="rotate(0.03 489.40 269.10)">Total number of foods reported in the individual foods file</text>
<text x="413.00" y="283.30" font-size="9.55" text-anchor="start" fill="#000" font-weight="normal" stroke="#000" stroke-width="0.15" transform="rotate(0.03 413.00 283.30)">3,7-dimethylxanthine(theobromine)(umol/L)</text>
<text x="553.00" y="298.10" font-size="9.55" text-anchor="start" fill="#000" font-weight="normal" stroke="#000" stroke-width="0.15" transform="rotate(0.03 553.00 298.10)">Hepatitis A Antibody (Anti-HAV)</text>
<text x="662.60" y="312.90" font-size="9.55" text-anchor="start" fill="#000" font-weight="normal" stroke="#000" stroke-width="0.15" transform="rotate(0.03 662.60 312.90)">Energy (kcal)</text>
<text x="483.80" y="320.60" font-size="9.55" text-anchor="start" fill="#000" font-weight="normal" stroke="#000" stroke-width="0.15" transform="rotate(0.03 483.80 320.60)">Number of dietary supplements reported</text>
<rect x="47.5" y="8.5" width="323.3" height="520.4" fill="none" stroke="#707070" stroke-width="1"/>
<rect x="409.4" y="8.5" width="323.20000000000005" height="520.4" fill="none" stroke="#707070" stroke-width="1"/>
<line x1="43.8" x2="47.5" y1="505.90" y2="505.90" stroke="#3d3d3d" stroke-width="1.25"/>
<text x="41.30" y="509.40" font-size="10.0" text-anchor="end" fill="#4d4d4d" font-weight="normal" stroke="#4d4d4d" stroke-width="0.15" transform="rotate(0.03 41.30 509.40)">0</text>
<line x1="405.7" x2="409.4" y1="505.90" y2="505.90" stroke="#3d3d3d" stroke-width="1.25"/>
<text x="403.20" y="509.40" font-size="10.0" text-anchor="end" fill="#4d4d4d" font-weight="normal" stroke="#4d4d4d" stroke-width="0.15" transform="rotate(0.03 403.20 509.40)">0</text>
<line x1="43.8" x2="47.5" y1="375.50" y2="375.50" stroke="#3d3d3d" stroke-width="1.25"/>
<text x="41.30" y="379.00" font-size="10.0" text-anchor="end" fill="#4d4d4d" font-weight="normal" stroke="#4d4d4d" stroke-width="0.15" transform="rotate(0.03 41.30 379.00)">2</text>
<line x1="405.7" x2="409.4" y1="375.50" y2="375.50" stroke="#3d3d3d" stroke-width="1.25"/>
<text x="403.20" y="379.00" font-size="10.0" text-anchor="end" fill="#4d4d4d" font-weight="normal" stroke="#4d4d4d" stroke-width="0.15" transform="rotate(0.03 403.20 379.00)">2</text>
<line x1="43.8" x2="47.5" y1="245.10" y2="245.10" stroke="#3d3d3d" stroke-width="1.25"/>
<text x="41.30" y="248.60" font-size="10.0" text-anchor="end" fill="#4d4d4d" font-weight="normal" stroke="#4d4d4d" stroke-width="0.15" transform="rotate(0.03 41.30 248.60)">4</text>
<line x1="405.7" x2="409.4" y1="245.10" y2="245.10" stroke="#3d3d3d" stroke-width="1.25"/>
<text x="403.20" y="248.60" font-size="10.0" text-anchor="end" fill="#4d4d4d" font-weight="normal" stroke="#4d4d4d" stroke-width="0.15" transform="rotate(0.03 403.20 248.60)">4</text>
<line x1="43.8" x2="47.5" y1="114.70" y2="114.70" stroke="#3d3d3d" stroke-width="1.25"/>
<text x="41.30" y="118.20" font-size="10.0" text-anchor="end" fill="#4d4d4d" font-weight="normal" stroke="#4d4d4d" stroke-width="0.15" transform="rotate(0.03 41.30 118.20)">6</text>
<line x1="405.7" x2="409.4" y1="114.70" y2="114.70" stroke="#3d3d3d" stroke-width="1.25"/>
<text x="403.20" y="118.20" font-size="10.0" text-anchor="end" fill="#4d4d4d" font-weight="normal" stroke="#4d4d4d" stroke-width="0.15" transform="rotate(0.03 403.20 118.20)">6</text>
<line x1="61.40" x2="61.40" y1="528.9" y2="532.6" stroke="#3d3d3d" stroke-width="1.25"/>
<text x="61.40" y="542.00" font-size="10.0" text-anchor="middle" fill="#4d4d4d" font-weight="normal" stroke="#4d4d4d" stroke-width="0.15" transform="rotate(0.03 61.40 542.00)">0.00</text>
<line x1="133.53" x2="133.53" y1="528.9" y2="532.6" stroke="#3d3d3d" stroke-width="1.25"/>
<text x="133.53" y="542.00" font-size="10.0" text-anchor="middle" fill="#4d4d4d" font-weight="normal" stroke="#4d4d4d" stroke-width="0.15" transform="rotate(0.03 133.53 542.00)">0.25</text>
<line x1="205.65" x2="205.65" y1="528.9" y2="532.6" stroke="#3d3d3d" stroke-width="1.25"/>
<text x="205.65" y="542.00" font-size="10.0" text-anchor="middle" fill="#4d4d4d" font-weight="normal" stroke="#4d4d4d" stroke-width="0.15" transform="rotate(0.03 205.65 542.00)">0.50</text>
<line x1="277.77" x2="277.77" y1="528.9" y2="532.6" stroke="#3d3d3d" stroke-width="1.25"/>
<text x="277.77" y="542.00" font-size="10.0" text-anchor="middle" fill="#4d4d4d" font-weight="normal" stroke="#4d4d4d" stroke-width="0.15" transform="rotate(0.03 277.77 542.00)">0.75</text>
<line x1="349.90" x2="349.90" y1="528.9" y2="532.6" stroke="#3d3d3d" stroke-width="1.25"/>
<text x="349.90" y="542.00" font-size="10.0" text-anchor="middle" fill="#4d4d4d" font-weight="normal" stroke="#4d4d4d" stroke-width="0.15" transform="rotate(0.03 349.90 542.00)">1.00</text>
<line x1="434.92" x2="434.92" y1="528.9" y2="532.6" stroke="#3d3d3d" stroke-width="1.25"/>
<text x="434.92" y="542.00" font-size="10.0" text-anchor="middle" fill="#4d4d4d" font-weight="normal" stroke="#4d4d4d" stroke-width="0.15" transform="rotate(0.03 434.92 542.00)">-0.6</text>
<line x1="510.61" x2="510.61" y1="528.9" y2="532.6" stroke="#3d3d3d" stroke-width="1.25"/>
<text x="510.61" y="542.00" font-size="10.0" text-anchor="middle" fill="#4d4d4d" font-weight="normal" stroke="#4d4d4d" stroke-width="0.15" transform="rotate(0.03 510.61 542.00)">-0.3</text>
<line x1="586.30" x2="586.30" y1="528.9" y2="532.6" stroke="#3d3d3d" stroke-width="1.25"/>
<text x="586.30" y="542.00" font-size="10.0" text-anchor="middle" fill="#4d4d4d" font-weight="normal" stroke="#4d4d4d" stroke-width="0.15" transform="rotate(0.03 586.30 542.00)">0.0</text>
<line x1="661.99" x2="661.99" y1="528.9" y2="532.6" stroke="#3d3d3d" stroke-width="1.25"/>
<text x="661.99" y="542.00" font-size="10.0" text-anchor="middle" fill="#4d4d4d" font-weight="normal" stroke="#4d4d4d" stroke-width="0.15" transform="rotate(0.03 661.99 542.00)">0.3</text>
<text x="209.15" y="556.20" font-size="12.3" text-anchor="middle" fill="#000" font-weight="normal" stroke="#000" stroke-width="0.15" transform="rotate(0.03 209.15 556.20)">R-squared of E (%)</text>
<text x="571.00" y="556.20" font-size="12.3" text-anchor="middle" fill="#000" font-weight="normal" stroke="#000" stroke-width="0.15" transform="rotate(0.03 571.00 556.20)">Effect of E [in SD units]</text>
<text x="0.00" y="0.00" font-size="12.3" text-anchor="middle" fill="#000" font-weight="normal" stroke="#000" stroke-width="0.15" transform="translate(30.4,268.7) rotate(-90.03)">-log10(p.value)</text>
<text x="0.00" y="0.00" font-size="12.3" text-anchor="middle" fill="#000" font-weight="normal" stroke="#000" stroke-width="0.15" transform="translate(392,268.7) rotate(-90.03)">-log10(p.value)</text>
<text x="20.60" y="19.10" font-size="15.6" text-anchor="start" fill="#000" font-weight="bold" stroke="#000" stroke-width="0.15" transform="rotate(0.03 20.60 19.10)">A</text>
<text x="383.20" y="19.10" font-size="15.6" text-anchor="start" fill="#000" font-weight="bold" stroke="#000" stroke-width="0.15" transform="rotate(0.03 383.20 19.10)">B</text>
<rect x="372.5" y="575.5" width="296.0" height="361.0" fill="#fff"/>
<line x1="410.35" x2="410.35" y1="575.5" y2="936.5" stroke="#ebebeb" stroke-width="0.7"/>
<line x1="488.45" x2="488.45" y1="575.5" y2="936.5" stroke="#ebebeb" stroke-width="0.7"/>
<line x1="566.55" x2="566.55" y1="575.5" y2="936.5" stroke="#ebebeb" stroke-width="0.7"/>
<line x1="644.65" x2="644.65" y1="575.5" y2="936.5" stroke="#ebebeb" stroke-width="0.7"/>
<line x1="449.40" x2="449.40" y1="575.5" y2="936.5" stroke="#ebebeb" stroke-width="1.15"/>
<line x1="527.50" x2="527.50" y1="575.5" y2="936.5" stroke="#ebebeb" stroke-width="1.15"/>
<line x1="605.60" x2="605.60" y1="575.5" y2="936.5" stroke="#ebebeb" stroke-width="1.15"/>
<line y1="580.85" y2="580.85" x1="372.5" x2="668.5" stroke="#ebebeb" stroke-width="1.15"/>
<line y1="590.33" y2="590.33" x1="372.5" x2="668.5" stroke="#ebebeb" stroke-width="1.15"/>
<line y1="599.80" y2="599.80" x1="372.5" x2="668.5" stroke="#ebebeb" stroke-width="1.15"/>
<line y1="609.28" y2="609.28" x1="372.5" x2="668.5" stroke="#ebebeb" stroke-width="1.15"/>
<line y1="618.75" y2="618.75" x1="372.5" x2="668.5" stroke="#ebebeb" stroke-width="1.15"/>
<line y1="628.23" y2="628.23" x1="372.5" x2="668.5" stroke="#ebebeb" stroke-width="1.15"/>
<line y1="637.71" y2="637.71" x1="372.5" x2="668.5" stroke="#ebebeb" stroke-width="1.15"/>
<line y1="647.18" y2="647.18" x1="372.5" x2="668.5" stroke="#ebebeb" stroke-width="1.15"/>
<line y1="656.66" y2="656.66" x1="372.5" x2="668.5" stroke="#ebebeb" stroke-width="1.15"/>
<line y1="666.13" y2="666.13" x1="372.5" x2="668.5" stroke="#ebebeb" stroke-width="1.15"/>
<line y1="675.61" y2="675.61" x1="372.5" x2="668.5" stroke="#ebebeb" stroke-width="1.15"/>
<line y1="685.09" y2="685.09" x1="372.5" x2="668.5" stroke="#ebebeb" stroke-width="1.15"/>
<line y1="694.56" y2="694.56" x1="372.5" x2="668.5" stroke="#ebebeb" stroke-width="1.15"/>
<line y1="704.04" y2="704.04" x1="372.5" x2="668.5" stroke="#ebebeb" stroke-width="1.15"/>
<line y1="713.51" y2="713.51" x1="372.5" x2="668.5" stroke="#ebebeb" stroke-width="1.15"/>
<line y1="722.99" y2="722.99" x1="372.5" x2="668.5" stroke="#ebebeb" stroke-width="1.15"/>
<line y1="732.47" y2="732.47" x1="372.5" x2="668.5" stroke="#ebebeb" stroke-width="1.15"/>
<line y1="741.94" y2="741.94" x1="372.5" x2="668.5" stroke="#ebebeb" stroke-width="1.15"/>
<line y1="751.42" y2="751.42" x1="372.5" x2="668.5" stroke="#ebebeb" stroke-width="1.15"/>
<line y1="760.89" y2="760.89" x1="372.5" x2="668.5" stroke="#ebebeb" stroke-width="1.15"/>
<line y1="770.37" y2="770.37" x1="372.5" x2="668.5" stroke="#ebebeb" stroke-width="1.15"/>
<line y1="779.85" y2="779.85" x1="372.5" x2="668.5" stroke="#ebebeb" stroke-width="1.15"/>
<line y1="789.32" y2="789.32" x1="372.5" x2="668.5" stroke="#ebebeb" stroke-width="1.15"/>
<line y1="798.80" y2="798.80" x1="372.5" x2="668.5" stroke="#ebebeb" stroke-width="1.15"/>
<line y1="808.27" y2="808.27" x1="372.5" x2="668.5" stroke="#ebebeb" stroke-width="1.15"/>
<line y1="817.75" y2="817.75" x1="372.5" x2="668.5" stroke="#ebebeb" stroke-width="1.15"/>
<line y1="827.23" y2="827.23" x1="372.5" x2="668.5" stroke="#ebebeb" stroke-width="1.15"/>
<line y1="836.70" y2="836.70" x1="372.5" x2="668.5" stroke="#ebebeb" stroke-width="1.15"/>
<line y1="846.18" y2="846.18" x1="372.5" x2="668.5" stroke="#ebebeb" stroke-width="1.15"/>
<line y1="855.65" y2="855.65" x1="372.5" x2="668.5" stroke="#ebebeb" stroke-width="1.15"/>
<line y1="865.13" y2="865.13" x1="372.5" x2="668.5" stroke="#ebebeb" stroke-width="1.15"/>
<line y1="874.61" y2="874.61" x1="372.5" x2="668.5" stroke="#ebebeb" stroke-width="1.15"/>
<line y1="884.08" y2="884.08" x1="372.5" x2="668.5" stroke="#ebebeb" stroke-width="1.15"/>
<line y1="893.56" y2="893.56" x1="372.5" x2="668.5" stroke="#ebebeb" stroke-width="1.15"/>
<line y1="903.03" y2="903.03" x1="372.5" x2="668.5" stroke="#ebebeb" stroke-width="1.15"/>
<line y1="912.51" y2="912.51" x1="372.5" x2="668.5" stroke="#ebebeb" stroke-width="1.15"/>
<line y1="921.99" y2="921.99" x1="372.5" x2="668.5" stroke="#ebebeb" stroke-width="1.15"/>
<line y1="931.46" y2="931.46" x1="372.5" x2="668.5" stroke="#ebebeb" stroke-width="1.15"/>
<rect x="527.50" y="576.80" width="128.05" height="8.10" fill="#4a4a4a"/>
<rect x="527.50" y="586.28" width="95.69" height="8.10" fill="#4a4a4a"/>
<rect x="527.50" y="595.75" width="82.19" height="8.10" fill="#4a4a4a"/>
<rect x="527.50" y="605.23" width="79.44" height="8.10" fill="#4a4a4a"/>
<rect x="527.50" y="614.70" width="79.44" height="8.10" fill="#4a4a4a"/>
<rect x="527.50" y="624.18" width="77.44" height="8.10" fill="#4a4a4a"/>
<rect x="527.50" y="633.66" width="74.57" height="8.10" fill="#4a4a4a"/>
<rect x="527.50" y="643.13" width="74.29" height="8.10" fill="#4a4a4a"/>
<rect x="527.50" y="652.61" width="71.70" height="8.10" fill="#4a4a4a"/>
<rect x="527.50" y="662.08" width="66.07" height="8.10" fill="#4a4a4a"/>
<rect x="527.50" y="671.56" width="62.76" height="8.10" fill="#4a4a4a"/>
<rect x="465.18" y="681.04" width="62.32" height="8.10" fill="#4a4a4a"/>
<rect x="464.30" y="690.51" width="63.20" height="8.10" fill="#4a4a4a"/>
<rect x="463.46" y="699.99" width="64.04" height="8.10" fill="#4a4a4a"/>
<rect x="462.61" y="709.46" width="64.89" height="8.10" fill="#4a4a4a"/>
<rect x="461.08" y="718.94" width="66.42" height="8.10" fill="#4a4a4a"/>
<rect x="460.74" y="728.42" width="66.76" height="8.10" fill="#4a4a4a"/>
<rect x="459.40" y="737.89" width="68.10" height="8.10" fill="#4a4a4a"/>
<rect x="459.40" y="747.37" width="68.10" height="8.10" fill="#4a4a4a"/>
<rect x="458.02" y="756.84" width="69.48" height="8.10" fill="#4a4a4a"/>
<rect x="457.52" y="766.32" width="69.98" height="8.10" fill="#4a4a4a"/>
<rect x="456.15" y="775.80" width="71.35" height="8.10" fill="#4a4a4a"/>
<rect x="453.77" y="785.27" width="73.73" height="8.10" fill="#4a4a4a"/>
<rect x="453.77" y="794.75" width="73.73" height="8.10" fill="#4a4a4a"/>
<rect x="449.87" y="804.22" width="77.63" height="8.10" fill="#4a4a4a"/>
<rect x="449.03" y="813.70" width="78.47" height="8.10" fill="#4a4a4a"/>
<rect x="445.96" y="823.18" width="81.54" height="8.10" fill="#4a4a4a"/>
<rect x="442.06" y="832.65" width="85.44" height="8.10" fill="#4a4a4a"/>
<rect x="437.97" y="842.13" width="89.53" height="8.10" fill="#4a4a4a"/>
<rect x="432.53" y="851.60" width="94.97" height="8.10" fill="#4a4a4a"/>
<rect x="431.53" y="861.08" width="95.97" height="8.10" fill="#4a4a4a"/>
<rect x="430.16" y="870.56" width="97.34" height="8.10" fill="#4a4a4a"/>
<rect x="429.66" y="880.03" width="97.84" height="8.10" fill="#4a4a4a"/>
<rect x="428.78" y="889.51" width="98.72" height="8.10" fill="#4a4a4a"/>
<rect x="424.88" y="898.98" width="102.62" height="8.10" fill="#4a4a4a"/>
<rect x="419.97" y="908.46" width="107.53" height="8.10" fill="#4a4a4a"/>
<rect x="413.66" y="917.94" width="113.84" height="8.10" fill="#4a4a4a"/>
<rect x="386.14" y="927.41" width="141.36" height="8.10" fill="#4a4a4a"/>
<rect x="372.5" y="575.5" width="296.0" height="361.0" fill="none" stroke="#707070" stroke-width="1"/>
<line x1="368.7" x2="372.5" y1="580.85" y2="580.85" stroke="#3d3d3d" stroke-width="1.25"/>
<text x="365.10" y="584.95" font-size="11.05" text-anchor="end" fill="#4d4d4d" font-weight="normal" stroke="#4d4d4d" stroke-width="0.15" transform="rotate(0.03 365.10 584.95)">Mean of two reproducible FENO measurements, in parts per billion</text>
<line x1="368.7" x2="372.5" y1="590.33" y2="590.33" stroke="#3d3d3d" stroke-width="1.25"/>
<text x="365.10" y="594.43" font-size="11.05" text-anchor="end" fill="#4d4d4d" font-weight="normal" stroke="#4d4d4d" stroke-width="0.15" transform="rotate(0.03 365.10 594.43)">Folate, RBC (ng/mL RBC)</text>
<line x1="368.7" x2="372.5" y1="599.80" y2="599.80" stroke="#3d3d3d" stroke-width="1.25"/>
<text x="365.10" y="603.90" font-size="11.05" text-anchor="end" fill="#4d4d4d" font-weight="normal" stroke="#4d4d4d" stroke-width="0.15" transform="rotate(0.03 365.10 603.90)">Prostate specific antigen ratio (%)</text>
<line x1="368.7" x2="372.5" y1="609.28" y2="609.28" stroke="#3d3d3d" stroke-width="1.25"/>
<text x="365.10" y="613.38" font-size="11.05" text-anchor="end" fill="#4d4d4d" font-weight="normal" stroke="#4d4d4d" stroke-width="0.15" transform="rotate(0.03 365.10 613.38)">5-Methyl-tetrahydrofolate (nmol/L)</text>
<line x1="368.7" x2="372.5" y1="618.75" y2="618.75" stroke="#3d3d3d" stroke-width="1.25"/>
<text x="365.10" y="622.85" font-size="11.05" text-anchor="end" fill="#4d4d4d" font-weight="normal" stroke="#4d4d4d" stroke-width="0.15" transform="rotate(0.03 365.10 622.85)">Direct HDL-Cholesterol (mg/dL)</text>
<line x1="368.7" x2="372.5" y1="628.23" y2="628.23" stroke="#3d3d3d" stroke-width="1.25"/>
<text x="365.10" y="632.33" font-size="11.05" text-anchor="end" fill="#4d4d4d" font-weight="normal" stroke="#4d4d4d" stroke-width="0.15" transform="rotate(0.03 365.10 632.33)">Folate, serum (ng/mL)</text>
<line x1="368.7" x2="372.5" y1="637.71" y2="637.71" stroke="#3d3d3d" stroke-width="1.25"/>
<text x="365.10" y="641.81" font-size="11.05" text-anchor="end" fill="#4d4d4d" font-weight="normal" stroke="#4d4d4d" stroke-width="0.15" transform="rotate(0.03 365.10 641.81)">Creatine Phosphokinase(CPK) (IU/L)</text>
<line x1="368.7" x2="372.5" y1="647.18" y2="647.18" stroke="#3d3d3d" stroke-width="1.25"/>
<text x="365.10" y="651.28" font-size="11.05" text-anchor="end" fill="#4d4d4d" font-weight="normal" stroke="#4d4d4d" stroke-width="0.15" transform="rotate(0.03 365.10 651.28)">Blood urea nitrogen (mg/dL)</text>
<line x1="368.7" x2="372.5" y1="656.66" y2="656.66" stroke="#3d3d3d" stroke-width="1.25"/>
<text x="365.10" y="660.76" font-size="11.05" text-anchor="end" fill="#4d4d4d" font-weight="normal" stroke="#4d4d4d" stroke-width="0.15" transform="rotate(0.03 365.10 660.76)">60 sec HR (30 sec HR * 2)</text>
<line x1="368.7" x2="372.5" y1="666.13" y2="666.13" stroke="#3d3d3d" stroke-width="1.25"/>
<text x="365.10" y="670.23" font-size="11.05" text-anchor="end" fill="#4d4d4d" font-weight="normal" stroke="#4d4d4d" stroke-width="0.15" transform="rotate(0.03 365.10 670.23)">Cardiovascular fitness level</text>
<line x1="368.7" x2="372.5" y1="675.61" y2="675.61" stroke="#3d3d3d" stroke-width="1.25"/>
<text x="365.10" y="679.71" font-size="11.05" text-anchor="end" fill="#4d4d4d" font-weight="normal" stroke="#4d4d4d" stroke-width="0.15" transform="rotate(0.03 365.10 679.71)">Albumin (g/dL)</text>
<line x1="368.7" x2="372.5" y1="685.09" y2="685.09" stroke="#3d3d3d" stroke-width="1.25"/>
<text x="365.10" y="689.19" font-size="11.05" text-anchor="end" fill="#4d4d4d" font-weight="normal" stroke="#4d4d4d" stroke-width="0.15" transform="rotate(0.03 365.10 689.19)">RSV_FaPhyloDivMean</text>
<line x1="368.7" x2="372.5" y1="694.56" y2="694.56" stroke="#3d3d3d" stroke-width="1.25"/>
<text x="365.10" y="698.66" font-size="11.05" text-anchor="end" fill="#4d4d4d" font-weight="normal" stroke="#4d4d4d" stroke-width="0.15" transform="rotate(0.03 365.10 698.66)">Aspartate aminotransferase AST (U/L)</text>
<line x1="368.7" x2="372.5" y1="704.04" y2="704.04" stroke="#3d3d3d" stroke-width="1.25"/>
<text x="365.10" y="708.14" font-size="11.05" text-anchor="end" fill="#4d4d4d" font-weight="normal" stroke="#4d4d4d" stroke-width="0.15" transform="rotate(0.03 365.10 708.14)">RSV_ObservedOTUsSD</text>
<line x1="368.7" x2="372.5" y1="713.51" y2="713.51" stroke="#3d3d3d" stroke-width="1.25"/>
<text x="365.10" y="717.61" font-size="11.05" text-anchor="end" fill="#4d4d4d" font-weight="normal" stroke="#4d4d4d" stroke-width="0.15" transform="rotate(0.03 365.10 717.61)">Luteinizing hormone (mIU/mL)</text>
<line x1="368.7" x2="372.5" y1="722.99" y2="722.99" stroke="#3d3d3d" stroke-width="1.25"/>
<text x="365.10" y="727.09" font-size="11.05" text-anchor="end" fill="#4d4d4d" font-weight="normal" stroke="#4d4d4d" stroke-width="0.15" transform="rotate(0.03 365.10 727.09)">Systolic Mean</text>
<line x1="368.7" x2="372.5" y1="732.47" y2="732.47" stroke="#3d3d3d" stroke-width="1.25"/>
<text x="365.10" y="736.57" font-size="11.05" text-anchor="end" fill="#4d4d4d" font-weight="normal" stroke="#4d4d4d" stroke-width="0.15" transform="rotate(0.03 365.10 736.57)">RSV_ObservedOTUsMean</text>
<line x1="368.7" x2="372.5" y1="741.94" y2="741.94" stroke="#3d3d3d" stroke-width="1.25"/>
<text x="365.10" y="746.04" font-size="11.05" text-anchor="end" fill="#4d4d4d" font-weight="normal" stroke="#4d4d4d" stroke-width="0.15" transform="rotate(0.03 365.10 746.04)">Thyroglobulin (ng/mL)</text>
<line x1="368.7" x2="372.5" y1="751.42" y2="751.42" stroke="#3d3d3d" stroke-width="1.25"/>
<text x="365.10" y="755.52" font-size="11.05" text-anchor="end" fill="#4d4d4d" font-weight="normal" stroke="#4d4d4d" stroke-width="0.15" transform="rotate(0.03 365.10 755.52)">Alkaline phosphotase (U/L)</text>
<line x1="368.7" x2="372.5" y1="760.89" y2="760.89" stroke="#3d3d3d" stroke-width="1.25"/>
<text x="365.10" y="764.99" font-size="11.05" text-anchor="end" fill="#4d4d4d" font-weight="normal" stroke="#4d4d4d" stroke-width="0.15" transform="rotate(0.03 365.10 764.99)">Triglycerides (mg/dL)</text>
<line x1="368.7" x2="372.5" y1="770.37" y2="770.37" stroke="#3d3d3d" stroke-width="1.25"/>
<text x="365.10" y="774.47" font-size="11.05" text-anchor="end" fill="#4d4d4d" font-weight="normal" stroke="#4d4d4d" stroke-width="0.15" transform="rotate(0.03 365.10 774.47)">Lymphocyte number (1000 cells/uL)</text>
<line x1="368.7" x2="372.5" y1="779.85" y2="779.85" stroke="#3d3d3d" stroke-width="1.25"/>
<text x="365.10" y="783.95" font-size="11.05" text-anchor="end" fill="#4d4d4d" font-weight="normal" stroke="#4d4d4d" stroke-width="0.15" transform="rotate(0.03 365.10 783.95)">Platelet count SI (1000 cells/uL)</text>
<line x1="368.7" x2="372.5" y1="789.32" y2="789.32" stroke="#3d3d3d" stroke-width="1.25"/>
<text x="365.10" y="793.42" font-size="11.05" text-anchor="end" fill="#4d4d4d" font-weight="normal" stroke="#4d4d4d" stroke-width="0.15" transform="rotate(0.03 365.10 793.42)">Eosinophils number (1000 cells/uL)</text>
<line x1="368.7" x2="372.5" y1="798.80" y2="798.80" stroke="#3d3d3d" stroke-width="1.25"/>
<text x="365.10" y="802.90" font-size="11.05" text-anchor="end" fill="#4d4d4d" font-weight="normal" stroke="#4d4d4d" stroke-width="0.15" transform="rotate(0.03 365.10 802.90)">Triglyceride (mg/dL)</text>
<line x1="368.7" x2="372.5" y1="808.27" y2="808.27" stroke="#3d3d3d" stroke-width="1.25"/>
<text x="365.10" y="812.37" font-size="11.05" text-anchor="end" fill="#4d4d4d" font-weight="normal" stroke="#4d4d4d" stroke-width="0.15" transform="rotate(0.03 365.10 812.37)">Red cell distribution width (%)</text>
<line x1="368.7" x2="372.5" y1="817.75" y2="817.75" stroke="#3d3d3d" stroke-width="1.25"/>
<text x="365.10" y="821.85" font-size="11.05" text-anchor="end" fill="#4d4d4d" font-weight="normal" stroke="#4d4d4d" stroke-width="0.15" transform="rotate(0.03 365.10 821.85)">Thyroxine, total (T4) (ug/dL)</text>
<line x1="368.7" x2="372.5" y1="827.23" y2="827.23" stroke="#3d3d3d" stroke-width="1.25"/>
<text x="365.10" y="831.33" font-size="11.05" text-anchor="end" fill="#4d4d4d" font-weight="normal" stroke="#4d4d4d" stroke-width="0.15" transform="rotate(0.03 365.10 831.33)">Triiodothyronine (T3), free (pg/mL)</text>
<line x1="368.7" x2="372.5" y1="836.70" y2="836.70" stroke="#3d3d3d" stroke-width="1.25"/>
<text x="365.10" y="840.80" font-size="11.05" text-anchor="end" fill="#4d4d4d" font-weight="normal" stroke="#4d4d4d" stroke-width="0.15" transform="rotate(0.03 365.10 840.80)">Albumin, urine (ug/mL)</text>
<line x1="368.7" x2="372.5" y1="846.18" y2="846.18" stroke="#3d3d3d" stroke-width="1.25"/>
<text x="365.10" y="850.28" font-size="11.05" text-anchor="end" fill="#4d4d4d" font-weight="normal" stroke="#4d4d4d" stroke-width="0.15" transform="rotate(0.03 365.10 850.28)">White blood cell count (1000 cells/uL)</text>
<line x1="368.7" x2="372.5" y1="855.65" y2="855.65" stroke="#3d3d3d" stroke-width="1.25"/>
<text x="365.10" y="859.75" font-size="11.05" text-anchor="end" fill="#4d4d4d" font-weight="normal" stroke="#4d4d4d" stroke-width="0.15" transform="rotate(0.03 365.10 859.75)">C-reactive protein (mg/dL)</text>
<line x1="368.7" x2="372.5" y1="865.13" y2="865.13" stroke="#3d3d3d" stroke-width="1.25"/>
<text x="365.10" y="869.23" font-size="11.05" text-anchor="end" fill="#4d4d4d" font-weight="normal" stroke="#4d4d4d" stroke-width="0.15" transform="rotate(0.03 365.10 869.23)">Segmented neutrophils num (1000 cell/uL)</text>
<line x1="368.7" x2="372.5" y1="874.61" y2="874.61" stroke="#3d3d3d" stroke-width="1.25"/>
<text x="365.10" y="878.71" font-size="11.05" text-anchor="end" fill="#4d4d4d" font-weight="normal" stroke="#4d4d4d" stroke-width="0.15" transform="rotate(0.03 365.10 878.71)">60 sec. pulse (30 sec. pulse * 2):</text>
<line x1="368.7" x2="372.5" y1="884.08" y2="884.08" stroke="#3d3d3d" stroke-width="1.25"/>
<text x="365.10" y="888.18" font-size="11.05" text-anchor="end" fill="#4d4d4d" font-weight="normal" stroke="#4d4d4d" stroke-width="0.15" transform="rotate(0.03 365.10 888.18)">Globulin (g/dL)</text>
<line x1="368.7" x2="372.5" y1="893.56" y2="893.56" stroke="#3d3d3d" stroke-width="1.25"/>
<text x="365.10" y="897.66" font-size="11.05" text-anchor="end" fill="#4d4d4d" font-weight="normal" stroke="#4d4d4d" stroke-width="0.15" transform="rotate(0.03 365.10 897.66)">Monocyte number (1000 cells/uL)</text>
<line x1="368.7" x2="372.5" y1="903.03" y2="903.03" stroke="#3d3d3d" stroke-width="1.25"/>
<text x="365.10" y="907.13" font-size="11.05" text-anchor="end" fill="#4d4d4d" font-weight="normal" stroke="#4d4d4d" stroke-width="0.15" transform="rotate(0.03 365.10 907.13)">Follicle stimulating hormone (mIU/mL)</text>
<line x1="368.7" x2="372.5" y1="912.51" y2="912.51" stroke="#3d3d3d" stroke-width="1.25"/>
<text x="365.10" y="916.61" font-size="11.05" text-anchor="end" fill="#4d4d4d" font-weight="normal" stroke="#4d4d4d" stroke-width="0.15" transform="rotate(0.03 365.10 916.61)">Homocysteine (umol/L)</text>
<line x1="368.7" x2="372.5" y1="921.99" y2="921.99" stroke="#3d3d3d" stroke-width="1.25"/>
<text x="365.10" y="926.09" font-size="11.05" text-anchor="end" fill="#4d4d4d" font-weight="normal" stroke="#4d4d4d" stroke-width="0.15" transform="rotate(0.03 365.10 926.09)">Gamma glutamyl transferase (U/L)</text>
<line x1="368.7" x2="372.5" y1="931.46" y2="931.46" stroke="#3d3d3d" stroke-width="1.25"/>
<text x="365.10" y="935.56" font-size="11.05" text-anchor="end" fill="#4d4d4d" font-weight="normal" stroke="#4d4d4d" stroke-width="0.15" transform="rotate(0.03 365.10 935.56)">Creatinine, urine (mg/dL)</text>
<line x1="449.40" x2="449.40" y1="936.5" y2="940.3" stroke="#3d3d3d" stroke-width="1.25"/>
<text x="449.40" y="951.00" font-size="11" text-anchor="middle" fill="#4d4d4d" font-weight="normal" stroke="#4d4d4d" stroke-width="0.15" transform="rotate(0.03 449.40 951.00)">-0.25</text>
<line x1="527.50" x2="527.50" y1="936.5" y2="940.3" stroke="#3d3d3d" stroke-width="1.25"/>
<text x="527.50" y="951.00" font-size="11" text-anchor="middle" fill="#4d4d4d" font-weight="normal" stroke="#4d4d4d" stroke-width="0.15" transform="rotate(0.03 527.50 951.00)">0.00</text>
<line x1="605.60" x2="605.60" y1="936.5" y2="940.3" stroke="#3d3d3d" stroke-width="1.25"/>
<text x="605.60" y="951.00" font-size="11" text-anchor="middle" fill="#4d4d4d" font-weight="normal" stroke="#4d4d4d" stroke-width="0.15" transform="rotate(0.03 605.60 951.00)">0.25</text>
<text x="520.50" y="967.00" font-size="13.7" text-anchor="middle" fill="#000" font-weight="normal" stroke="#000" stroke-width="0.15" transform="rotate(0.03 520.50 967.00)">Correlation</text>
<text x="0.00" y="0.00" font-size="13.7" text-anchor="middle" fill="#000" font-weight="normal" stroke="#000" stroke-width="0.15" transform="translate(31.8,756.0) rotate(-90.03)">pvardesc</text>
</svg>
</body></html>
